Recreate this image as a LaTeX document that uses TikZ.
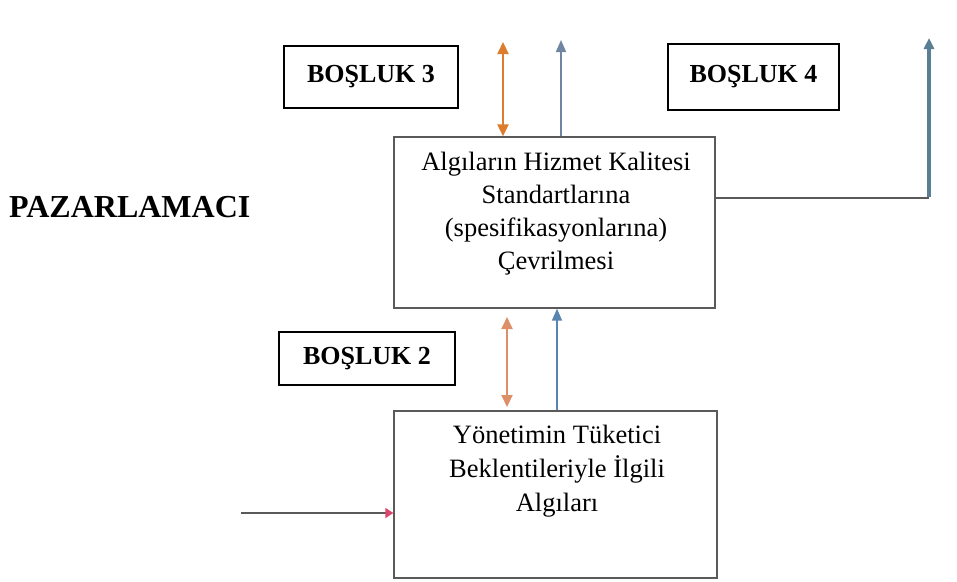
\documentclass[tikz,border=0pt]{standalone}
\usepackage{fontspec}
\setmainfont{Liberation Serif}
\usetikzlibrary{arrows.meta}
\definecolor{boxgray}{HTML}{5A5A5A}
\definecolor{orangeA}{HTML}{DC7C2C}
\definecolor{orangeB}{HTML}{DD8F68}
\definecolor{blueA}{HTML}{6E86A2}
\definecolor{blueC}{HTML}{5A84B0}
\definecolor{blueB}{HTML}{5A7F92}
\definecolor{pinkA}{HTML}{D9466E}
\tikzset{
  mainbox/.style={draw=boxgray, line width=1.3pt, rectangle, inner sep=0pt},
  maintext/.style={inner sep=0pt, align=center, font=\fontsize{26.5}{33}\selectfont},
  gapbox/.style={draw=black, line width=2.8pt, rectangle, inner sep=0pt,
    font=\fontsize{26}{30}\bfseries\selectfont},
  orangearrow/.style={draw=orangeA, line width=2.2pt, {Triangle[length=12pt,width=11pt]}-{Triangle[length=12pt,width=11pt]}},
  orangearrowB/.style={draw=orangeB, line width=2pt, {Triangle[length=12pt,width=11pt]}-{Triangle[length=12pt,width=11pt]}},
  bluearrow/.style={line width=1.6pt, -{Triangle[length=12pt,width=10pt]}},
}
\begin{document}
\begin{tikzpicture}[x=1pt,y=-1pt]
\useasboundingbox (0,0) rectangle (957,581);
\fill[white] (0,0) rectangle (957,581);

% title
\node[inner sep=0pt, anchor=base west, font=\fontsize{32}{36}\bfseries\selectfont] (pz) at (9,217) {PAZARLAMACI};

% gap boxes
\node[gapbox, minimum width=174pt, minimum height=62pt] (b3) at (371,77) {BOŞLUK 3};
\node[gapbox, minimum width=171pt, minimum height=66pt] (b4) at (753.5,77) {BOŞLUK 4};
\node[gapbox, minimum width=176pt, minimum height=53pt] (b2) at (367,358.5) {BOŞLUK 2};

% main boxes
\node[mainbox, minimum width=321pt, minimum height=171pt] (upper) at (554.5,222.5) {};
\node[maintext, anchor=north] (uppertext) at (556,152) {Algıların Hizmet Kalitesi\\Standartlarına\\(spesifikasyonlarına)\\Çevrilmesi};
\node[mainbox, minimum width=323pt, minimum height=167pt] (lower) at (555.5,494.5) {};
\node[maintext, anchor=north, font=\fontsize{26.5}{34}\selectfont] (lowertext) at (557,425) {Yönetimin Tüketici\\Beklentileriyle İlgili\\Algıları};

% coordinates for free ends
\coordinate (o3top) at (503,42);
\coordinate (b3top) at (561,40);
\coordinate (o2top) at (507,317);
\coordinate (o2bot) at (507,407);
\coordinate (rc) at (929,198);
\coordinate (rtop) at (929,38);
\coordinate (lstart) at (241,513);

% upper arrows
\draw[orangearrow] (o3top) -- (o3top |- upper.north);
\draw[bluearrow, draw=blueA] (b3top |- upper.north) -- (b3top);

% lower arrows
\draw[orangearrowB] (o2top) -- (o2bot);
\draw[bluearrow, draw=blueC] (lower.north -| 557,0) -- (upper.south -| 557,0);

% right connector
\draw[boxgray, line width=1.3pt] (upper.east |- rc) -- (rc);
\draw[blueB, line width=3.2pt, -{Triangle[length=11pt,width=10pt]}] ([yshift=0.65pt]rc) -- (rtop);

% left connector
\draw[boxgray, line width=1.3pt, -{Triangle[length=8pt,width=10pt,color=pinkA]}] (lstart) -- (lstart -| lower.west);
\end{tikzpicture}
\end{document}
